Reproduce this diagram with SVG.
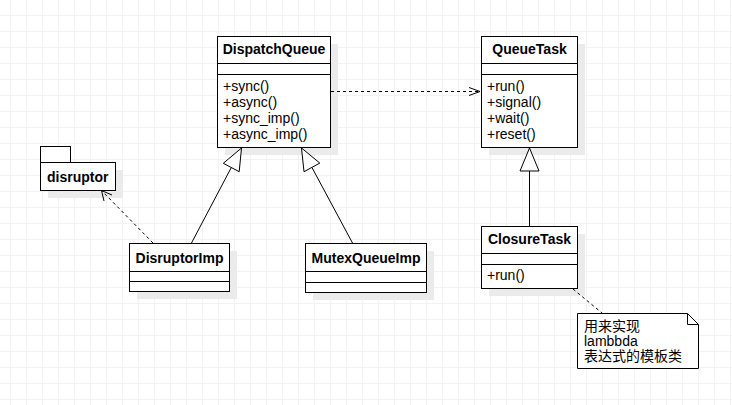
<svg xmlns="http://www.w3.org/2000/svg" width="732" height="405" viewBox="0 0 732 405">
<style>
.box{fill:#fff;stroke:#000;stroke-width:1}
.shadow{fill:#ebebeb}
.sep{stroke:#000;stroke-width:1;fill:none}
.title{font-family:"Liberation Sans",Arial,sans-serif;font-size:14px;font-weight:bold;fill:#000;text-anchor:middle}
.pkg{font-family:"Liberation Sans",Arial,sans-serif;font-size:14px;font-weight:bold;fill:#000}
.m{font-family:"Liberation Sans",Arial,sans-serif;font-size:14px;fill:#000}
.note{font-family:"Liberation Sans","Noto Sans CJK SC",sans-serif;font-size:14px;fill:#000}
.line{stroke:#000;stroke-width:1;fill:none}
.dash{stroke:#000;stroke-width:1;fill:none;stroke-dasharray:3,3}
.tri{fill:#fff;stroke:#000;stroke-width:1}
</style>
<defs>
<pattern id="grid" x="10" y="15" width="16" height="16" patternUnits="userSpaceOnUse">
<rect x="0" y="0" width="1" height="16" fill="#f2f2f2"/>
<rect x="0" y="0" width="16" height="1" fill="#f2f2f2"/>
</pattern>
</defs>
<rect width="732" height="405" fill="#fff"/>
<rect width="732" height="405" fill="url(#grid)"/>

<g id="DispatchQueue">
<rect class="shadow" x="225" y="44" width="113" height="111"/>
<rect class="box" x="217.5" y="36.5" width="113" height="111"/>
<line class="sep" x1="217.5" y1="63.5" x2="330.5" y2="63.5"/>
<line class="sep" x1="217.5" y1="74.5" x2="330.5" y2="74.5"/>
<text class="title" x="274" y="54">DispatchQueue</text>
<text class="m" x="223" y="91">+sync()</text>
<text class="m" x="223" y="107">+async()</text>
<text class="m" x="223" y="123">+sync_imp()</text>
<text class="m" x="223" y="139">+async_imp()</text>
</g>

<g id="QueueTask">
<rect class="shadow" x="489" y="44" width="96" height="111"/>
<rect class="box" x="481.5" y="36.5" width="96" height="111"/>
<line class="sep" x1="481.5" y1="63.5" x2="577.5" y2="63.5"/>
<line class="sep" x1="481.5" y1="74.5" x2="577.5" y2="74.5"/>
<text class="title" x="529.5" y="54">QueueTask</text>
<text class="m" x="487" y="91">+run()</text>
<text class="m" x="487" y="107">+signal()</text>
<text class="m" x="487" y="123">+wait()</text>
<text class="m" x="487" y="139">+reset()</text>
</g>

<g id="disruptor">
<rect class="shadow" x="48" y="170" width="75" height="28"/>
<rect class="box" x="40.5" y="146.5" width="30" height="16"/>
<rect class="box" x="40.5" y="162.5" width="75" height="28"/>
<text class="pkg" x="47" y="182">disruptor</text>
</g>

<g id="DisruptorImp">
<rect class="shadow" x="137" y="251" width="100" height="48"/>
<rect class="box" x="129.5" y="243.5" width="100" height="48"/>
<line class="sep" x1="129.5" y1="271.5" x2="229.5" y2="271.5"/>
<line class="sep" x1="129.5" y1="281.5" x2="229.5" y2="281.5"/>
<text class="title" x="179.5" y="263">DisruptorImp</text>
</g>

<g id="MutexQueueImp">
<rect class="shadow" x="313" y="251" width="121" height="49"/>
<rect class="box" x="305.5" y="243.5" width="121" height="49"/>
<line class="sep" x1="305.5" y1="271.5" x2="426.5" y2="271.5"/>
<line class="sep" x1="305.5" y1="282.5" x2="426.5" y2="282.5"/>
<text class="title" x="366" y="263">MutexQueueImp</text>
</g>

<g id="ClosureTask">
<rect class="shadow" x="489" y="234" width="96" height="62"/>
<rect class="box" x="481.5" y="226.5" width="96" height="62"/>
<line class="sep" x1="481.5" y1="253.5" x2="577.5" y2="253.5"/>
<line class="sep" x1="481.5" y1="264.5" x2="577.5" y2="264.5"/>
<text class="title" x="529.5" y="244">ClosureTask</text>
<text class="m" x="487" y="280">+run()</text>
</g>

<g id="note">
<path class="box" d="M577.5,313.5 H687.5 L698.5,324.5 V368.5 H577.5 Z"/>
<path class="line" d="M687.5,313.5 V324.5 H698.5"/>
<text class="note" x="584" y="331">用来实现</text>
<text class="note" x="584" y="346">lambbda</text>
<text class="note" x="584" y="361">表达式的模板类</text>
</g>

<g id="connectors">
<line class="dash" x1="331" y1="91.5" x2="479" y2="91.5"/>
<polyline class="line" points="469,87.5 480,91.5 469,95.5"/>
<line class="dash" x1="153" y1="243" x2="102" y2="191"/>
<polyline class="line" points="104,201 101.5,190.5 112,195"/>
<line class="line" x1="191.5" y1="243" x2="231.3" y2="167.5"/>
<polygon class="tri" points="241.5,148 239.2,171.7 223.3,163.3"/>
<line class="line" x1="352.5" y1="243" x2="311.9" y2="167.4"/>
<polygon class="tri" points="301.5,148 304,171.7 319.8,163.1"/>
<line class="line" x1="529.5" y1="171" x2="529.5" y2="226"/>
<polygon class="tri" points="529.5,148 520,171 539,171"/>
<line class="dash" x1="573" y1="289" x2="602" y2="313"/>
</g>
</svg>
